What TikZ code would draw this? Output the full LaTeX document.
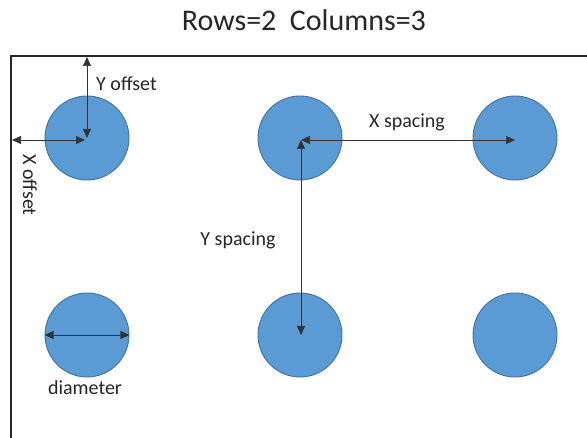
\documentclass[tikz,border=0pt]{standalone}
\usepackage{fontspec}
\setmainfont{Carlito}
\usetikzlibrary{arrows.meta}
\definecolor{dotfill}{HTML}{5B9BD5}
\definecolor{dotline}{HTML}{41719C}
\definecolor{txt}{HTML}{262626}
\tikzset{
  dot/.style={circle, fill=dotfill, draw=dotline, line width=0.9pt, minimum size=84pt, inner sep=0pt},
  dim/.style={line width=0.7pt, draw=black!80, {Triangle[length=9pt,width=8pt]}-{Triangle[length=9pt,width=8pt]}},
  lbl/.style={text=txt, font=\fontsize{20}{22}\selectfont, inner sep=0pt},
  frame/.style={line width=1.6pt, draw=black!85}
}
\begin{document}
\begin{tikzpicture}[x=1pt,y=-1pt]
\useasboundingbox (0,0) rectangle (587,438);
\fill[white] (0,0) rectangle (587,438);
% frame (cut off at right and bottom)
\coordinate (fbl) at (11,440);
\coordinate (ftl) at (11,56);
\coordinate (ftr) at (590,56);
\draw[frame] (fbl) -- (ftl) -- (ftr);
% title
\node[lbl, font=\fontsize{30}{34}\selectfont] (title) at (304,20) {Rows=2\ \ Columns=3};
% circles
\node[dot] (c11) at (87,138) {};
\node[dot] (c12) at (300,138) {};
\node[dot] (c13) at (515,138) {};
\node[dot] (c21) at (87,335) {};
\node[dot] (c22) at (300,335) {};
\node[dot] (c23) at (515,335) {};
% offsets
\coordinate (ytop) at (87,57);
\coordinate (xleft) at (12,140);
\coordinate (c11x) at (85,140);
\draw[dim] (ytop) -- (c11.center);
\draw[dim] (xleft) -- (c11x);
\node[lbl, anchor=west] (ylab) at (96,84) {Y offset};
\node[lbl, rotate=-90] (xlab) at (30,185) {X offset};
% spacings
\coordinate (c12x) at (301,140);
\coordinate (c13x) at (515,140);
\coordinate (c22y) at (301,335);
\draw[dim] (c12x) -- (c13x);
\draw[dim] (c12x) -- (c22y);
\node[lbl] (xslab) at (407,122) {X spacing};
\node[lbl] (yslab) at (238,240) {Y spacing};
% diameter
\draw[dim] (c21.west) -- (c21.east);
\node[lbl] (dlab) at (85,388) {diameter};
\end{tikzpicture}
\end{document}
